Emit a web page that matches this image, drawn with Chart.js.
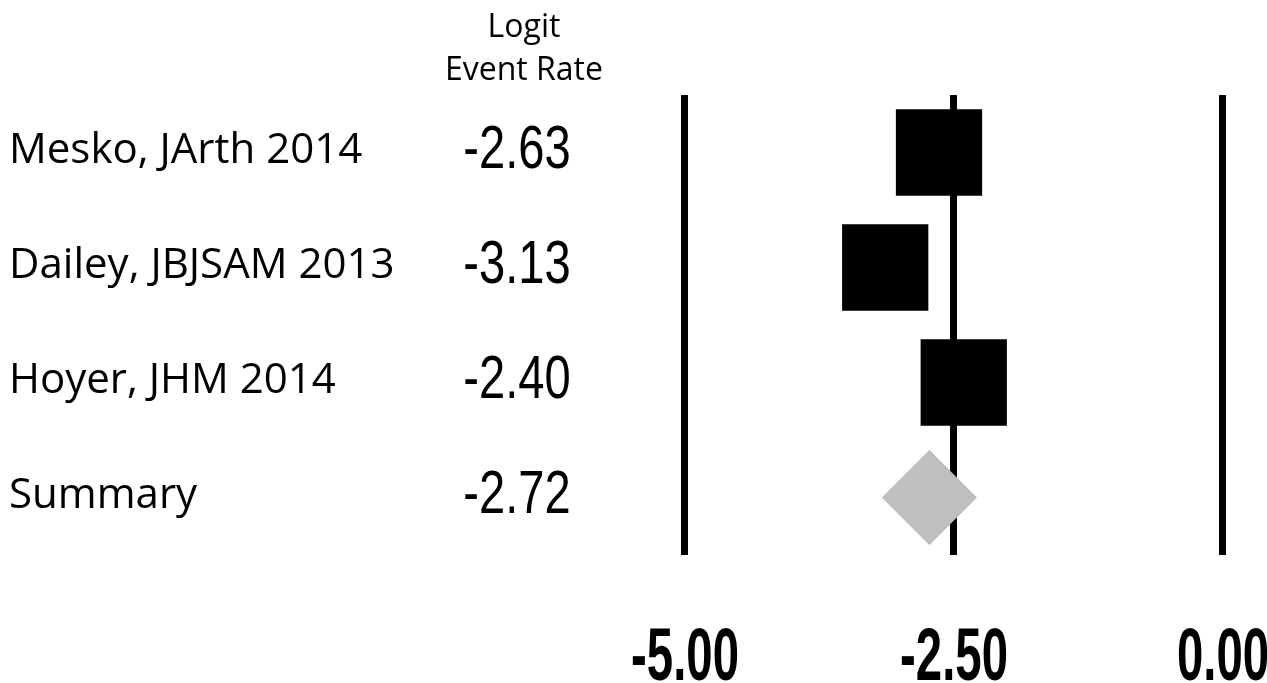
<!DOCTYPE html>
<html>
<head>
<meta charset="utf-8">
<script src="https://cdn.jsdelivr.net/npm/chart.js@4"></script>
<style>
  html, body { margin: 0; padding: 0; background: #fff; overflow: hidden; }
  /* a bit wider than the window: Chart.js keeps ~62px right padding for the big markers */
  #wrap { width: 1284px; height: 683px; }
</style>
</head>
<body>
<div id="wrap"><canvas id="forest"></canvas></div>
<script>
// studies and their logit event rates
var studies = ['Mesko, JArth 2014', 'Dailey, JBJSAM 2013', 'Hoyer, JHM 2014', 'Summary'];
var logitRates = [-2.63, -3.13, -2.40, -2.72];
var xTicks = [-5.00, -2.50, 0.00];
var headerLines = ['Logit', 'Event Rate'];

// points: one per row, last row is the summary diamond
var studyPoints = [];
for (var i = 0; i < studies.length - 1; i++) {
    studyPoints.push({ x: logitRates[i], y: i });
}
var summaryPoint = [{ x: logitRates[studies.length - 1], y: studies.length - 1 }];

// draws the left text columns and the condensed tick labels
var forestText = {
    id: 'forestText',
    afterDraw: function(chart) {
        var ctx = chart.ctx;
        var ys = chart.scales.y;
        var xs = chart.scales.x;
        ctx.save();
        ctx.fillStyle = '#000';

        // header over value column
        ctx.textAlign = 'center';
        ctx.textBaseline = 'middle';
        ctx.font = '32px "Open Sans"';
        ctx.fillText(headerLines[0], 524, 28);
        ctx.fillText(headerLines[1], 524, 71);

        studies.forEach(function(name, i) {
            var py = ys.getPixelForValue(i);
            ctx.textAlign = 'left';
            ctx.textBaseline = 'middle';
            ctx.font = '42px "Open Sans"';
            ctx.fillText(name, 9, py - 1);

            // value column, narrow
            ctx.save();
            ctx.translate(517, py - 2);
            ctx.scale(0.76, 1);
            ctx.textAlign = 'center';
            ctx.font = '62px "Liberation Sans"';
            ctx.fillText(logitRates[i].toFixed(2), 0, 0);
            ctx.restore();
        });

        // x tick labels, bold and narrow
        xs.ticks.forEach(function(t) {
            var px = xs.getPixelForValue(t.value);
            ctx.save();
            ctx.translate(px + 1, 660);
            ctx.scale(0.64, 1);
            ctx.textAlign = 'center';
            ctx.textBaseline = 'middle';
            ctx.font = 'bold 74px "Liberation Sans"';
            ctx.fillText(t.value.toFixed(2), 0, 0);
            ctx.restore();
        });
        ctx.restore();
    }
};

var ctx = document.getElementById('forest').getContext('2d');
var forestChart = new Chart(ctx, {
    type: 'scatter',
    data: {
        datasets: [{
            label: 'Studies',
            data: studyPoints,
            pointStyle: 'rect',
            pointRadius: 61,
            pointHoverRadius: 61,
            backgroundColor: '#000',
            borderColor: '#000',
            borderWidth: 0
        }, {
            label: 'Summary',
            data: summaryPoint,
            pointStyle: 'rectRot',
            pointRadius: 47,
            pointHoverRadius: 47,
            backgroundColor: '#bfbfbf',
            borderColor: '#b3b3b3',
            borderWidth: 1
        }]
    },
    options: {
        responsive: true,
        maintainAspectRatio: false,
        animation: false,
        layout: {
            padding: { left: 684, right: 62, top: 95, bottom: 128 }
        },
        plugins: {
            legend: { display: false },
            tooltip: { enabled: false }
        },
        scales: {
            x: {
                type: 'linear',
                min: -5,
                max: 0,
                afterBuildTicks: function(scale) {
                    scale.ticks = xTicks.map(function(v) { return { value: v }; });
                },
                ticks: { display: false },
                border: { display: false },
                grid: {
                    color: '#000',
                    lineWidth: 7,
                    drawTicks: false
                }
            },
            y: {
                type: 'linear',
                display: false,
                reverse: true,
                min: -0.5,
                max: 3.5
            }
        }
    },
    plugins: [forestText]
});
</script>
</body>
</html>
